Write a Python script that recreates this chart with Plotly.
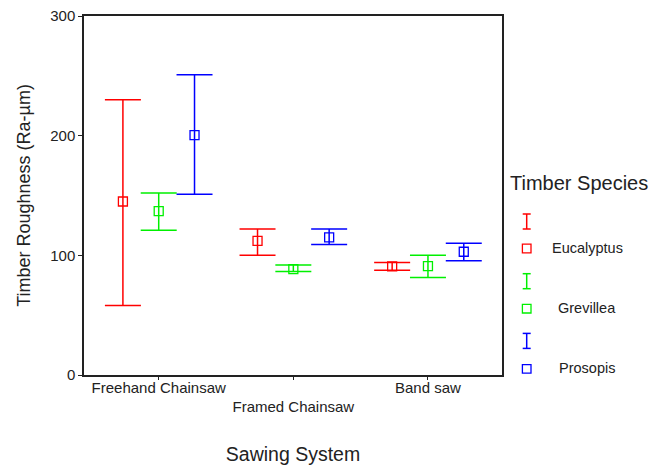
import plotly.graph_objects as go

# ---- data ----
categories = ["Freehand Chainsaw", "Framed Chainsaw", "Band saw"]
species = ["Eucalyptus", "Grevillea", "Prosopis"]
colors = ["#ff0000", "#00f000", "#0000ff"]

eucalyptus_mean = [145, 112, 90.7]
eucalyptus_upper = [230, 122, 94]
eucalyptus_lower = [58, 100, 87.5]

grevillea_mean = [137, 88.5, 91]
grevillea_upper = [152, 92, 100]
grevillea_lower = [121, 86.5, 81.5]

prosopis_mean = [200.5, 115, 103]
prosopis_upper = [251, 122, 110]
prosopis_lower = [151, 109, 95.5]

y_ticks = [0, 100, 200, 300]

means = [eucalyptus_mean, grevillea_mean, prosopis_mean]
uppers = [eucalyptus_upper, grevillea_upper, prosopis_upper]
lowers = [eucalyptus_lower, grevillea_lower, prosopis_lower]

# ---- style ----
FONT = "Liberation Sans, Arial, sans-serif"
TXT = "#222222"
W, H = 663, 465
L, R, T, B = 84, 502, 16, 375  # plot area in pixels
offset = 0.266

fig = go.Figure()
for i, sp in enumerate(species):
    xs = [k + (i - 1) * offset for k in range(len(categories))]
    m, u, lo = means[i], uppers[i], lowers[i]
    fig.add_trace(go.Scatter(
        x=xs, y=m, mode="markers", name=sp, showlegend=False, hoverinfo="skip",
        marker=dict(symbol="square-open", size=9, color=colors[i],
                    line=dict(width=1.3, color=colors[i])),
        error_y=dict(type="data", symmetric=False,
                     array=[a - b for a, b in zip(u, m)],
                     arrayminus=[b - c for b, c in zip(m, lo)],
                     color=colors[i], thickness=1.5, width=18),
    ))

# ---- manual legend (pixel -> paper) ----
def px(x):
    return (x - L) / (R - L)

def py(y):
    return (B - y) / (B - T)

shapes = []
annotations = [dict(text="Timber Species", x=px(508), y=py(183), xref="paper", yref="paper",
                    xanchor="left", yanchor="middle", showarrow=False,
                    font=dict(family=FONT, size=20, color=TXT))]
lx = 526.7
for i, sp in enumerate(species):
    c = colors[i]
    top = 214 + 59.7 * i
    bot = top + 15
    sq = 248.5 + 60.2 * i
    shapes += [
        dict(type="line", xref="paper", yref="paper", x0=px(lx), x1=px(lx), y0=py(top), y1=py(bot),
             line=dict(color=c, width=1.5)),
        dict(type="line", xref="paper", yref="paper", x0=px(lx - 4), x1=px(lx + 4), y0=py(top), y1=py(top),
             line=dict(color=c, width=1.5)),
        dict(type="line", xref="paper", yref="paper", x0=px(lx - 4), x1=px(lx + 4), y0=py(bot), y1=py(bot),
             line=dict(color=c, width=1.5)),
        dict(type="rect", xref="paper", yref="paper", x0=px(lx - 4.3), x1=px(lx + 4.3),
             y0=py(sq - 4.3), y1=py(sq + 4.3), line=dict(color=c, width=1.3)),
    ]
    annotations.append(dict(text=sp, x=px(587), y=py(sq - 0.5), xref="paper", yref="paper",
                            xanchor="center", yanchor="middle", showarrow=False,
                            font=dict(family=FONT, size=14.5, color=TXT)))

ticktext = [categories[0], "<br>" + categories[1], categories[2]]

fig.update_layout(
    width=W, height=H,
    margin=dict(l=L, r=W - R, t=T, b=H - B, pad=0, autoexpand=False),
    paper_bgcolor="white", plot_bgcolor="white",
    showlegend=False,
    font=dict(family=FONT, color=TXT),
    shapes=shapes, annotations=annotations,
    xaxis=dict(
        range=[-0.555, 2.55], tickvals=list(range(len(categories))), ticktext=ticktext,
        automargin=False,
        showgrid=False, zeroline=False, showline=True, linecolor="#222", linewidth=1.5,
        mirror=True, ticks="outside", ticklen=3, tickcolor="#222",
        ticklabelstandoff=-5,
        tickfont=dict(family=FONT, size=15, color=TXT),
        title=dict(text="Sawing System", font=dict(family=FONT, size=19.5, color=TXT), standoff=34),
    ),
    yaxis=dict(
        range=[0, 300], tickvals=y_ticks, showgrid=False, zeroline=False,
        automargin=False,
        showline=True, linecolor="#222", linewidth=1.5, mirror=True,
        ticks="outside", ticklen=4, tickcolor="#222",
        tickfont=dict(family=FONT, size=15, color=TXT),
        title=dict(text="Timber Roughness (Ra-µm)", font=dict(family=FONT, size=18, color=TXT), standoff=15),
    ),
)

fig.write_html("out.html", config={"displayModeBar": False},
               post_script="document.body.style.margin='0px';")
